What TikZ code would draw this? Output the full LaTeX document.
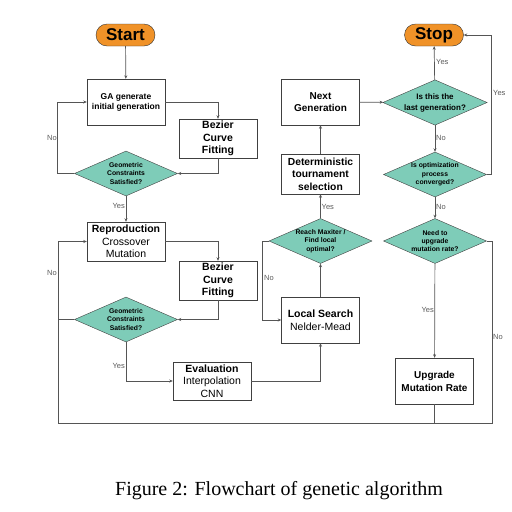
\documentclass[tikz,border=0pt]{standalone}
\usepackage{fontspec}
\setmainfont{Liberation Sans}
\newfontfamily\capfont{Liberation Serif}
\usetikzlibrary{shapes.geometric,shapes.misc,arrows.meta}

\definecolor{startorange}{RGB}{240,146,40}
\definecolor{diateal}{RGB}{126,204,184}
\definecolor{linegray}{RGB}{85,85,85}

\tikzset{
  term/.style={rounded rectangle, draw=black!80, fill=startorange, minimum width=59pt, minimum height=22pt, inner sep=0pt, font=\fontsize{17}{20}\selectfont\bfseries},
  box/.style={draw=black!75, fill=white, minimum width=78pt, inner sep=0pt, align=center},
  decision/.style={diamond, draw=black!75, fill=diateal, minimum width=103pt, minimum height=45pt, inner sep=0pt, shape aspect=2.3, align=center, font=\fontsize{6.8}{8.3}\selectfont\bfseries},
  arr/.style={draw=linegray, line width=0.7pt, -{Stealth[length=3.5pt,width=3pt]}},
  line/.style={draw=linegray, line width=0.7pt},
  yn/.style={text=black!65, font=\fontsize{7.5}{9}\selectfont, inner sep=1pt}
}

\begin{document}
\begin{tikzpicture}[x=1pt,y=-1pt]
\useasboundingbox (0,0) rectangle (512,512);

% left column
\node[term] (start) at (125.5,35) {Start};
\node[box, minimum height=46pt, font=\fontsize{8.5}{10}\selectfont\bfseries] (ga) at (126,102) {GA generate\\initial generation};
\node[box, minimum height=39pt, font=\fontsize{10.5}{12.2}\selectfont\bfseries] (bez1) at (218,138.5) {Bezier\\Curve\\Fitting};
\node[decision] (geo1) at (126,173.5) {Geometric\\Constraints\\Satisfied?};
\node[box, minimum height=39pt, font=\fontsize{10.5}{12.4}\selectfont] (repro) at (126,241.5) {\textbf{Reproduction}\\Crossover\\Mutation};
\node[box, minimum height=39pt, font=\fontsize{10.5}{12.2}\selectfont\bfseries] (bez2) at (218,280.5) {Bezier\\Curve\\Fitting};
\node[decision] (geo2) at (126,319.5) {Geometric\\Constraints\\Satisfied?};
\node[box, minimum height=38pt, font=\fontsize{10.5}{12.4}\selectfont] (eval) at (212,381) {\textbf{Evaluation}\\Interpolation\\CNN};

% middle column
\node[box, minimum height=46pt, font=\fontsize{10.5}{12.7}\selectfont] (local) at (320.5,320) {\textbf{Local Search}\\Nelder-Mead};
\node[decision] (reach) at (320.5,241) {Reach Maxiter /\\Find local\\optimal?};
\node[box, minimum height=40pt, font=\fontsize{10.3}{12.5}\selectfont\bfseries] (det) at (320.5,174) {Deterministic\\tournament\\selection};
\node[box, minimum height=46pt, font=\fontsize{10}{12}\selectfont\bfseries] (next) at (320.5,102) {Next\\Generation};

% right column
\node[term] (stop) at (434,35) {Stop};
\node[decision, font=\fontsize{8}{11}\selectfont\bfseries] (last) at (435,102.5) {Is this the\\last generation?};
\node[decision] (conv) at (435,174.5) {Is optimization\\process\\converged?};
\node[decision] (need) at (435,241) {Need to\\upgrade\\mutation rate?};
\node[box, minimum height=46pt, font=\fontsize{10}{13}\selectfont\bfseries] (upgrade) at (434.5,381) {Upgrade\\Mutation Rate};

\coordinate (loopR) at (492,423);
\coordinate (loopL) at (58,423);

% connectors
\draw[arr] (start) -- (ga);
\draw[arr] (ga.east) -| (bez1.north);
\draw[arr] (bez1.south) |- (geo1.east);
\draw[arr] (geo1.west) -- ++(-17,0) |- (ga.west);
\draw[arr] (geo1) -- (repro);
\draw[arr] (repro.east) -| (bez2.north);
\draw[arr] (bez2.south) |- (geo2.east);
\draw[arr] (geo2.south) |- (eval.west);
\draw[arr] (eval.east) -| (local.south);
\draw[arr] (local) -- (reach);
\draw[arr] (reach.west) -- ++(-6,0) |- (local.west);
\draw[arr] (reach) -- (det);
\draw[arr] (det) -- (next);
\draw[arr] (next) -- (last);
\draw[arr] (last) -- (stop);
\draw[arr] (last) -- (conv);
\draw[arr] (conv.east) -- ++(5,0) |- (stop.east);
\draw[arr] (conv) -- (need);
\draw[arr] (need) -- (upgrade);
\draw[arr] (need.east) -| (loopR) -- (loopL) |- (repro.west);
\draw[line] (upgrade.south) -- (upgrade.south |- loopR);
\draw[line] (geo2.west) -- (geo2.west -| loopL);

% yes / no
\node[yn, anchor=east] (no1) at (58,138) {No};
\node[yn, anchor=east] (yes1) at (126,206) {Yes};
\node[yn, anchor=east] (no2) at (58,273) {No};
\node[yn, anchor=east] (yes2) at (126,366) {Yes};
\node[yn, anchor=west] (no3) at (263,278) {No};
\node[yn, anchor=west] (yes3) at (320.5,207) {Yes};
\node[yn, anchor=west] (yes4) at (435,62) {Yes};
\node[yn, anchor=west] (no4) at (435,138) {No};
\node[yn, anchor=west] (yes5) at (492,93) {Yes};
\node[yn, anchor=west] (no5) at (435,207) {No};
\node[yn, anchor=east] (yes6) at (435,310) {Yes};
\node[yn, anchor=west] (no6) at (492,337) {No};

\node (caption) at (279,491) {\capfont\fontsize{20}{24}\selectfont Figure 2: Flowchart of genetic algorithm};
\end{tikzpicture}
\end{document}
